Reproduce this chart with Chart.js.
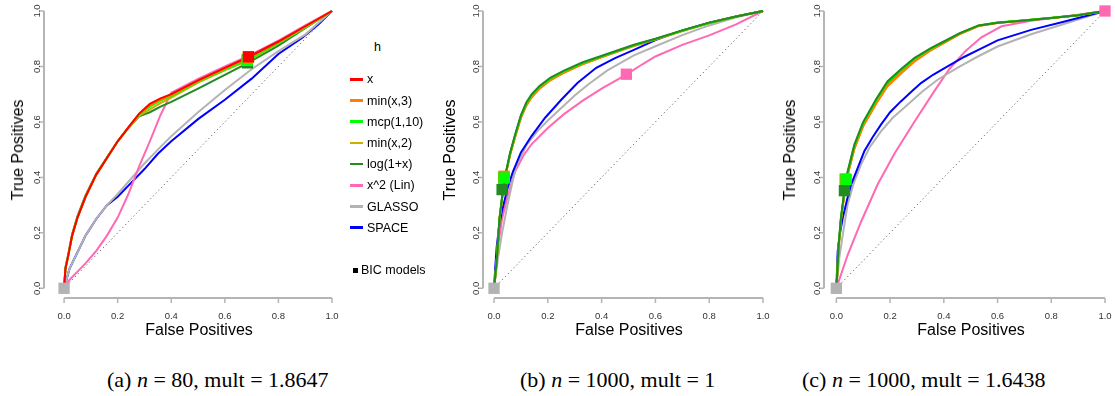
<!DOCTYPE html>
<html>
<head>
<meta charset="utf-8">
<script src="https://cdn.jsdelivr.net/npm/chart.js@4/dist/chart.umd.min.js"></script>
<style>
  html, body { margin: 0; padding: 0; background: #fff; }
  #page { position: relative; width: 1115px; height: 396px; overflow: hidden;
          font-family: "Liberation Sans", Arial, sans-serif; color: #000; }
  canvas { position: absolute; top: 0; }
  .lab { position: absolute; white-space: nowrap; transform: translate(-50%, -50%); }
  .ytitle { font-size: 16px; transform: translate(-50%, -50%) rotate(-90deg); }
  .xtitle { font-size: 16px; }
  .leg { position: absolute; font-size: 12.5px; white-space: nowrap; transform: translateY(-50%); }
  .legline { position: absolute; width: 13px; height: 2.5px; }
  .cap { position: absolute; white-space: nowrap; transform: translateY(-50%);
         font-family: "Liberation Serif", "DejaVu Serif", serif; font-size: 22px; }
</style>
</head>
<body>
<div id="page">
  <canvas id="rocA" width="340" height="325" style="left:0px"></canvas>
  <canvas id="rocB" width="340" height="325" style="left:440px"></canvas>
  <canvas id="rocC" width="335" height="325" style="left:780px"></canvas>

  <div class="lab ytitle" style="left:18px; top:150px">True Positives</div>
  <div class="lab ytitle" style="left:450px; top:150px">True Positives</div>
  <div class="lab ytitle" style="left:790px; top:150px">True Positives</div>

  <div class="lab xtitle" style="left:199px; top:330px">False Positives</div>
  <div class="lab xtitle" style="left:629px; top:330px">False Positives</div>
  <div class="lab xtitle" style="left:971px; top:330px">False Positives</div>

  <div class="cap" style="left:107px; top:380px">(a) <i>n</i> = 80, mult = 1.8647</div>
  <div class="cap" style="left:520px; top:380px">(b) <i>n</i> = 1000, mult = 1</div>
  <div class="cap" style="left:802px; top:380px">(c) <i>n</i> = 1000, mult = 1.6438</div>

  <div id="legend"></div>
</div>

<script>
/* ------------------------------------------------------------
   Data
------------------------------------------------------------ */
var TICKS       = [0, 0.2, 0.4, 0.6, 0.8, 1];
var TICK_LABELS = ['0.0', '0.2', '0.4', '0.6', '0.8', '1.0'];
var LEGEND_LABELS = ['x', 'min(x,3)', 'mcp(1,10)', 'min(x,2)', 'log(1+x)', 'x^2 (Lin)', 'GLASSO', 'SPACE'];

/* (a) n = 80 */
var A_FP_TOP    = [0, 0.005, 0.015, 0.03, 0.05, 0.08, 0.12, 0.16, 0.2, 0.24, 0.28, 0.32, 0.36, 0.4, 0.5, 0.6, 0.69, 0.8, 0.9, 1];
var A_TP_X      = [0, 0.07, 0.115, 0.19, 0.255, 0.33, 0.41, 0.47, 0.53, 0.58, 0.63, 0.665, 0.685, 0.70, 0.75, 0.795, 0.835, 0.89, 0.945, 1];
var A_TP_MIN3   = [0, 0.07, 0.115, 0.19, 0.255, 0.33, 0.41, 0.47, 0.53, 0.58, 0.628, 0.66, 0.68, 0.697, 0.748, 0.792, 0.832, 0.888, 0.944, 1];
var A_TP_MCP    = [0, 0.07, 0.115, 0.19, 0.255, 0.33, 0.41, 0.47, 0.53, 0.58, 0.626, 0.655, 0.677, 0.693, 0.745, 0.789, 0.826, 0.885, 0.942, 1];
var A_TP_MIN2   = [0, 0.07, 0.115, 0.19, 0.255, 0.33, 0.41, 0.47, 0.53, 0.578, 0.622, 0.645, 0.668, 0.688, 0.742, 0.786, 0.823, 0.883, 0.94, 1];
var A_TP_LOG    = [0, 0.075, 0.12, 0.195, 0.26, 0.335, 0.413, 0.472, 0.53, 0.578, 0.62, 0.635, 0.655, 0.672, 0.72, 0.77, 0.815, 0.875, 0.938, 1];
var A_FP_LIN    = [0, 0.02, 0.05, 0.08, 0.12, 0.16, 0.2, 0.24, 0.28, 0.32, 0.36, 0.4, 0.5, 0.6, 0.69, 0.8, 0.9, 1];
var A_TP_LIN    = [0, 0.03, 0.06, 0.09, 0.135, 0.19, 0.255, 0.34, 0.44, 0.53, 0.625, 0.705, 0.755, 0.8, 0.839, 0.893, 0.948, 1];
var A_FP_GL     = [0, 0.02, 0.05, 0.08, 0.12, 0.16, 0.2, 0.25, 0.3, 0.35, 0.4, 0.5, 0.6, 0.7, 0.8, 0.9, 1];
var A_TP_GLASSO = [0, 0.07, 0.13, 0.19, 0.25, 0.30, 0.34, 0.395, 0.45, 0.50, 0.548, 0.635, 0.715, 0.79, 0.855, 0.915, 1];
var A_FP_SP     = [0, 0.02, 0.05, 0.08, 0.12, 0.16, 0.2, 0.25, 0.3, 0.35, 0.4, 0.5, 0.6, 0.7, 0.8, 0.888, 0.95, 1];
var A_TP_SPACE  = [0, 0.07, 0.13, 0.19, 0.25, 0.30, 0.33, 0.38, 0.43, 0.485, 0.53, 0.61, 0.68, 0.756, 0.845, 0.903, 0.952, 1];
var A_BIC_LABEL = ['log(1+x)', 'min(x,2)', 'mcp(1,10)', 'min(x,3)', 'x', 'GLASSO'];
var A_BIC_FP    = [0.684, 0.683, 0.684, 0.688, 0.688, 0];
var A_BIC_TP    = [0.813, 0.822, 0.825, 0.832, 0.835, 0];

/* (b) n = 1000, mult = 1 */
var B_FP_TOP    = [0, 0.005, 0.01, 0.02, 0.03, 0.04, 0.06, 0.08, 0.1, 0.12, 0.14, 0.17, 0.21, 0.26, 0.33, 0.42, 0.52, 0.6, 0.7, 0.8, 0.9, 1];
var B_TP_LOG    = [0, 0.05, 0.1, 0.25, 0.33, 0.40, 0.49, 0.56, 0.625, 0.67, 0.70, 0.73, 0.76, 0.785, 0.815, 0.845, 0.878, 0.9, 0.93, 0.958, 0.98, 1];
var B_TP_X      = [0, 0.048, 0.097, 0.245, 0.325, 0.395, 0.484, 0.553, 0.617, 0.662, 0.692, 0.723, 0.753, 0.779, 0.81, 0.841, 0.875, 0.898, 0.929, 0.957, 0.98, 1];
var B_TP_MIN3   = [0, 0.048, 0.096, 0.244, 0.324, 0.394, 0.482, 0.55, 0.614, 0.658, 0.688, 0.72, 0.75, 0.777, 0.808, 0.84, 0.874, 0.897, 0.928, 0.957, 0.98, 1];
var B_TP_MCP    = [0, 0.049, 0.098, 0.247, 0.327, 0.397, 0.487, 0.557, 0.621, 0.666, 0.696, 0.727, 0.757, 0.782, 0.812, 0.843, 0.876, 0.899, 0.929, 0.957, 0.98, 1];
var B_TP_MIN2   = [0, 0.048, 0.097, 0.245, 0.325, 0.396, 0.485, 0.554, 0.618, 0.663, 0.693, 0.724, 0.754, 0.78, 0.811, 0.842, 0.876, 0.898, 0.929, 0.957, 0.98, 1];
var B_FP_SP     = [0, 0.005, 0.01, 0.02, 0.03, 0.05, 0.07, 0.1, 0.14, 0.19, 0.25, 0.31, 0.38, 0.45, 0.52, 0.6, 0.7, 0.8, 0.9, 1];
var B_TP_SPACE  = [0, 0.08, 0.15, 0.23, 0.28, 0.36, 0.42, 0.49, 0.55, 0.615, 0.68, 0.74, 0.795, 0.83, 0.86, 0.895, 0.93, 0.958, 0.98, 1];
var B_FP_GL     = [0, 0.005, 0.015, 0.03, 0.05, 0.08, 0.12, 0.16, 0.2, 0.25, 0.3, 0.35, 0.42, 0.52, 0.6, 0.7, 0.8, 0.9, 1];
var B_TP_GLASSO = [0, 0.04, 0.11, 0.2, 0.3, 0.435, 0.515, 0.565, 0.605, 0.65, 0.695, 0.735, 0.785, 0.84, 0.873, 0.913, 0.948, 0.977, 1];
var B_FP_LIN    = [0, 0.005, 0.015, 0.03, 0.05, 0.08, 0.11, 0.14, 0.2, 0.26, 0.33, 0.4, 0.49, 0.55, 0.6, 0.7, 0.8, 0.9, 1];
var B_TP_LIN    = [0, 0.04, 0.15, 0.25, 0.33, 0.425, 0.48, 0.52, 0.578, 0.628, 0.677, 0.72, 0.77, 0.807, 0.836, 0.878, 0.912, 0.952, 1];
var B_BIC_LABEL = ['x^2 (Lin)', 'x', 'min(x,2)', 'min(x,3)', 'mcp(1,10)', 'log(1+x)', 'GLASSO'];
var B_BIC_FP    = [0.492, 0.037, 0.037, 0.037, 0.037, 0.03, 0];
var B_BIC_TP    = [0.772, 0.398, 0.4, 0.404, 0.398, 0.356, 0];

/* (c) n = 1000, mult = 1.6438 */
var C_FP_TOP    = [0, 0.003, 0.008, 0.017, 0.036, 0.067, 0.1, 0.15, 0.19, 0.24, 0.29, 0.35, 0.4, 0.46, 0.53, 0.6, 0.7, 0.8, 0.9, 1];
var C_TP_LOG    = [0, 0.05, 0.15, 0.254, 0.398, 0.518, 0.6, 0.685, 0.746, 0.79, 0.83, 0.865, 0.89, 0.92, 0.948, 0.958, 0.966, 0.975, 0.985, 1];
var C_TP_X      = [0, 0.048, 0.145, 0.248, 0.39, 0.508, 0.59, 0.675, 0.735, 0.78, 0.822, 0.86, 0.886, 0.918, 0.947, 0.958, 0.966, 0.975, 0.985, 1];
var C_TP_MIN3   = [0, 0.046, 0.14, 0.244, 0.385, 0.502, 0.584, 0.668, 0.728, 0.774, 0.817, 0.857, 0.884, 0.917, 0.946, 0.957, 0.966, 0.975, 0.985, 1];
var C_TP_MCP    = [0, 0.049, 0.148, 0.252, 0.395, 0.514, 0.596, 0.681, 0.742, 0.786, 0.827, 0.863, 0.889, 0.92, 0.948, 0.959, 0.967, 0.976, 0.985, 1];
var C_TP_MIN2   = [0, 0.047, 0.143, 0.246, 0.388, 0.505, 0.587, 0.671, 0.731, 0.777, 0.82, 0.858, 0.885, 0.918, 0.947, 0.958, 0.966, 0.975, 0.985, 1];
var C_FP_SP     = [0, 0.005, 0.012, 0.024, 0.04, 0.055, 0.08, 0.104, 0.135, 0.166, 0.2, 0.24, 0.28, 0.315, 0.36, 0.414, 0.477, 0.525, 0.6, 0.725, 0.85, 1];
var C_TP_SPACE  = [0, 0.134, 0.19, 0.254, 0.32, 0.374, 0.435, 0.494, 0.545, 0.59, 0.635, 0.674, 0.71, 0.74, 0.77, 0.80, 0.835, 0.858, 0.894, 0.932, 0.962, 1];
var C_FP_GL     = [0, 0.011, 0.025, 0.042, 0.065, 0.092, 0.125, 0.166, 0.21, 0.265, 0.32, 0.377, 0.45, 0.525, 0.6, 0.725, 0.85, 1];
var C_TP_GLASSO = [0, 0.11, 0.2, 0.302, 0.38, 0.446, 0.51, 0.566, 0.615, 0.662, 0.71, 0.752, 0.795, 0.835, 0.872, 0.916, 0.954, 1];
var C_FP_LIN    = [0, 0.005, 0.042, 0.092, 0.154, 0.216, 0.29, 0.364, 0.42, 0.48, 0.54, 0.615, 0.725, 0.886, 1];
var C_TP_LIN    = [0, 0.014, 0.12, 0.24, 0.375, 0.485, 0.6, 0.71, 0.79, 0.855, 0.905, 0.945, 0.965, 0.985, 1];
var C_BIC_LABEL = ['x^2 (Lin)', 'x', 'min(x,2)', 'min(x,3)', 'mcp(1,10)', 'log(1+x)', 'GLASSO'];
var C_BIC_FP    = [1, 0.034, 0.033, 0.035, 0.036, 0.03, 0];
var C_BIC_TP    = [1, 0.392, 0.394, 0.393, 0.392, 0.352, 0];


/* ------------------------------------------------------------
   Styles
------------------------------------------------------------ */
var COLORS = {
  'x':         '#FF0000',
  'min(x,3)':  '#FF8000',
  'mcp(1,10)': '#00FF00',
  'min(x,2)':  '#CDAD00',
  'log(1+x)':  '#228B22',
  'x^2 (Lin)': '#FF69B4',
  'GLASSO':    '#B3B3B3',
  'SPACE':     '#0000FF'
};
var AXIS_COLOR = '#b5b5b5';
var TICK_TEXT  = '#333333';


/* ------------------------------------------------------------
   Helpers
------------------------------------------------------------ */
function pts(fp, tp) {
  return fp.map(function (f, i) { return { x: f, y: tp[i] }; });
}

function lineSet(label, fp, tp) {
  return {
    label: label,
    data: pts(fp, tp),
    showLine: true,
    borderColor: COLORS[label],
    borderWidth: 2,
    pointRadius: 0,
    tension: 0,
    fill: false,
    clip: false
  };
}

function diagSet() {
  return {
    label: 'diag',
    data: pts([0, 1], [0, 1]),
    showLine: true,
    borderColor: '#444444',
    borderWidth: 1,
    borderDash: [1, 3],
    pointRadius: 0,
    clip: false
  };
}

function bicSets(labels, fp, tp) {
  return labels.map(function (lab, i) {
    return {
      label: 'BIC ' + lab,
      data: [{ x: fp[i], y: tp[i] }],
      showLine: false,
      pointStyle: 'rect',
      pointRadius: 8,
      pointHoverRadius: 8,
      backgroundColor: COLORS[lab],
      borderWidth: 0,
      clip: false
    };
  });
}

/* R-style axes: line from first to last tick, outward ticks */
var rAxes = {
  id: 'rAxes',
  afterDraw: function (chart) {
    var ctx = chart.ctx, xs = chart.scales.x, ys = chart.scales.y;
    var area = chart.chartArea;
    ctx.save();
    ctx.strokeStyle = AXIS_COLOR;
    ctx.lineWidth = 2;
    ctx.beginPath();
    ctx.moveTo(xs.getPixelForValue(0), area.bottom);
    ctx.lineTo(xs.getPixelForValue(1), area.bottom);
    ctx.moveTo(area.left, ys.getPixelForValue(0));
    ctx.lineTo(area.left, ys.getPixelForValue(1));
    ctx.stroke();

    ctx.lineWidth = 1.5;
    ctx.font = '9.5px "Liberation Sans", Arial, sans-serif';
    ctx.fillStyle = TICK_TEXT;
    TICKS.forEach(function (t, i) {
      var px = xs.getPixelForValue(t), py = ys.getPixelForValue(t);
      ctx.beginPath();
      ctx.moveTo(px, area.bottom);
      ctx.lineTo(px, area.bottom + 5);
      ctx.moveTo(area.left, py);
      ctx.lineTo(area.left - 5, py);
      ctx.stroke();

      ctx.textAlign = 'center';
      ctx.textBaseline = 'middle';
      ctx.fillText(TICK_LABELS[i], px, area.bottom + 18);

      ctx.save();
      ctx.translate(area.left - 7, py);
      ctx.rotate(-Math.PI / 2);
      ctx.fillText(TICK_LABELS[i], 0, 0);
      ctx.restore();
    });
    ctx.restore();
  }
};

/* datasets are listed bottom-to-top; Chart.js paints index 0 last, so flip */
function renderRoc(canvasId, datasets, xMin, pad) {
  return new Chart(document.getElementById(canvasId), {
    type: 'scatter',
    data: { datasets: datasets.slice().reverse() },
    options: {
      responsive: false,
      animation: false,
      events: [],
      layout: { padding: pad },
      plugins: { legend: { display: false }, tooltip: { enabled: false } },
      scales: {
        x: { type: 'linear', min: xMin, max: 1, display: false },
        y: { type: 'linear', min: -0.035, max: 1, display: false }
      }
    },
    plugins: [rAxes]
  });
}


/* ------------------------------------------------------------
   Panels
------------------------------------------------------------ */
renderRoc('rocA', [
  diagSet(),
  lineSet('SPACE', A_FP_SP, A_TP_SPACE),
  lineSet('GLASSO', A_FP_GL, A_TP_GLASSO),
  lineSet('x^2 (Lin)', A_FP_LIN, A_TP_LIN),
  lineSet('log(1+x)', A_FP_TOP, A_TP_LOG),
  lineSet('min(x,2)', A_FP_TOP, A_TP_MIN2),
  lineSet('mcp(1,10)', A_FP_TOP, A_TP_MCP),
  lineSet('min(x,3)', A_FP_TOP, A_TP_MIN3),
  lineSet('x', A_FP_TOP, A_TP_X)
].concat(bicSets(A_BIC_LABEL, A_BIC_FP, A_BIC_TP)), -0.075, { left: 44, right: 7, top: 11, bottom: 27 });

renderRoc('rocB', [
  diagSet(),
  lineSet('x^2 (Lin)', B_FP_LIN, B_TP_LIN),
  lineSet('GLASSO', B_FP_GL, B_TP_GLASSO),
  lineSet('SPACE', B_FP_SP, B_TP_SPACE),
  lineSet('x', B_FP_TOP, B_TP_X),
  lineSet('min(x,2)', B_FP_TOP, B_TP_MIN2),
  lineSet('min(x,3)', B_FP_TOP, B_TP_MIN3),
  lineSet('mcp(1,10)', B_FP_TOP, B_TP_MCP),
  lineSet('log(1+x)', B_FP_TOP, B_TP_LOG)
].concat(bicSets(B_BIC_LABEL, B_BIC_FP, B_BIC_TP)), -0.041, { left: 43, right: 17, top: 11, bottom: 27 });

renderRoc('rocC', [
  diagSet(),
  lineSet('x^2 (Lin)', C_FP_LIN, C_TP_LIN),
  lineSet('GLASSO', C_FP_GL, C_TP_GLASSO),
  lineSet('SPACE', C_FP_SP, C_TP_SPACE),
  lineSet('x', C_FP_TOP, C_TP_X),
  lineSet('min(x,2)', C_FP_TOP, C_TP_MIN2),
  lineSet('min(x,3)', C_FP_TOP, C_TP_MIN3),
  lineSet('mcp(1,10)', C_FP_TOP, C_TP_MCP),
  lineSet('log(1+x)', C_FP_TOP, C_TP_LOG)
].concat(bicSets(C_BIC_LABEL, C_BIC_FP, C_BIC_TP)), -0.046, { left: 44, right: 10, top: 11, bottom: 27 });


/* ------------------------------------------------------------
   Legend (sits between panels a and b)
------------------------------------------------------------ */
(function () {
  var box = document.getElementById('legend');
  var html = '<div class="leg" style="left:374px; top:47px">h</div>';
  LEGEND_LABELS.forEach(function (lab, i) {
    var y = 79.3 + i * 21.2;
    html += '<div class="legline" style="left:350px; top:' + (y - 1.25) + 'px; background:' + COLORS[lab] + '"></div>';
    html += '<div class="leg" style="left:367px; top:' + y + 'px">' + lab + '</div>';
  });
  html += '<div style="position:absolute; left:353px; top:267.5px; width:5px; height:5px; background:#000"></div>';
  html += '<div class="leg" style="left:361px; top:270px">BIC models</div>';
  box.innerHTML = html;
})();
</script>
</body>
</html>
